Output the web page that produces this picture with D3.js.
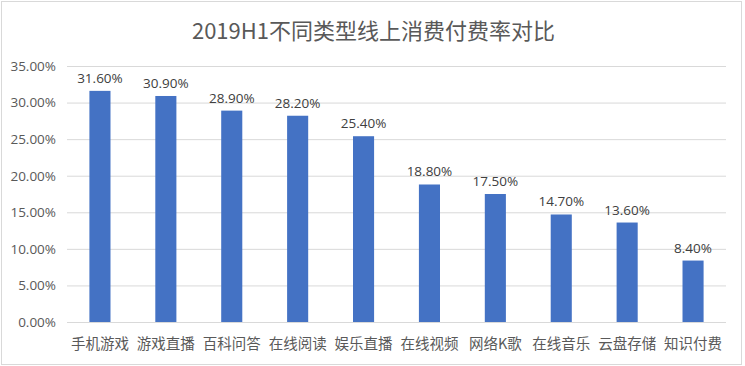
<!DOCTYPE html>
<html><head><meta charset="utf-8">
<script src="https://cdn.jsdelivr.net/npm/d3@7"></script>
<style>body{margin:0;background:#fff}svg{display:block}</style>
</head><body><svg id="c" width="745" height="366"></svg>
<script>
const categories = ["手机游戏","游戏直播","百科问答","在线阅读","娱乐直播","在线视频","网络K歌","在线音乐","云盘存储","知识付费"];
const values = [31.6,30.9,28.9,28.2,25.4,18.8,17.5,14.7,13.6,8.4];
const yTicks = [0,5,10,15,20,25,30,35];
const title = "2019H1不同类型线上消费付费率对比";

const svg = d3.select("#c");
const W=745,H=366;
const m={left:67,right:19,top:66,bottom:44};
svg.append("rect").attr("x",1.5).attr("y",1.5).attr("width",740).attr("height",H-3).attr("fill","#fff").attr("stroke","#d9d9d9");
const x=d3.scaleBand().domain(categories).range([m.left,W-m.right]).paddingInner(0.68).paddingOuter(0.34);
const y=d3.scaleLinear().domain([0,35]).range([H-m.bottom,m.top]);
const font="'Noto Sans CJK SC','Noto Sans',sans-serif";
svg.append("text").attr("x",W/2+1).attr("y",39).attr("text-anchor","middle").attr("font-family",font).attr("font-size",22).attr("fill","#595959").text(title);
const ga=svg.append("g").attr("transform",`translate(${m.left},0)`).call(d3.axisLeft(y).tickValues(yTicks).tickSize(-(W-m.left-m.right)).tickFormat(d=>d.toFixed(2)+"%"));
ga.select(".domain").remove();
ga.selectAll(".tick line").attr("stroke","#d9d9d9");
ga.selectAll(".tick text").attr("x",-11).attr("font-family","'Open Sans',sans-serif").attr("font-size",13.5).attr("fill","#595959");
svg.append("g").selectAll("rect").data(values).join("rect")
 .attr("x",(d,i)=>x(categories[i])).attr("width",x.bandwidth())
 .attr("y",d=>y(d)).attr("height",d=>y(0)-y(d)).attr("fill","#4472C4");
svg.append("g").selectAll("text").data(values).join("text")
 .attr("x",(d,i)=>x(categories[i])+x.bandwidth()/2).attr("y",d=>y(d)-8)
 .attr("text-anchor","middle").attr("font-family","'Open Sans',sans-serif").attr("font-size",13.5).attr("fill","#404040")
 .text(d=>d.toFixed(2)+"%");
svg.append("g").selectAll("text").data(categories).join("text")
 .attr("x",d=>x(d)+x.bandwidth()/2).attr("y",H-m.bottom+27)
 .attr("text-anchor","middle").attr("font-family",font).attr("font-size",14.5).attr("fill","#595959").text(d=>d);
</script></body></html>
